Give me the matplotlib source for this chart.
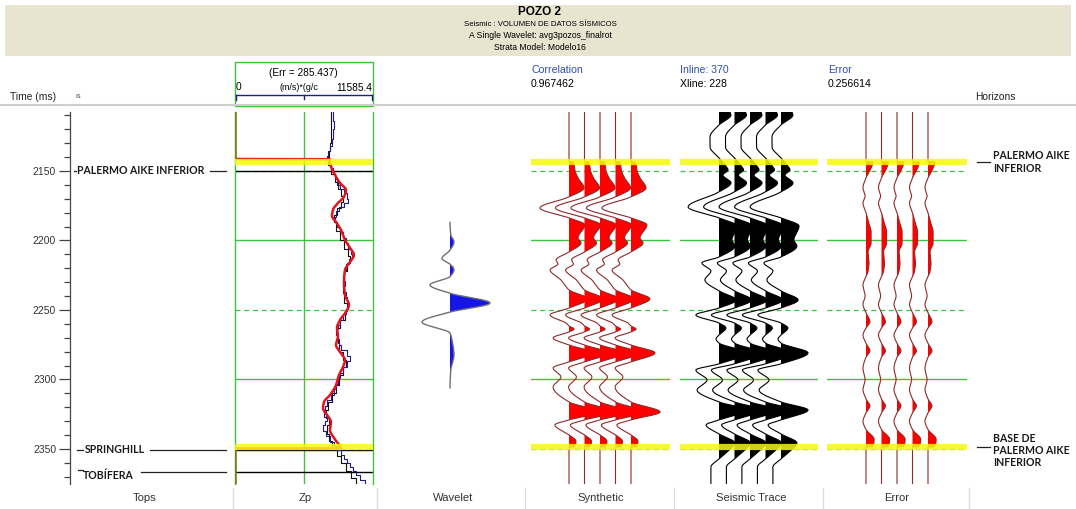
import numpy as np
import matplotlib
matplotlib.use("Agg")
import matplotlib.pyplot as plt
import matplotlib.transforms as mtransforms
from matplotlib.patches import Rectangle
from matplotlib.lines import Line2D

plt.rcParams['font.family'] = ['Liberation Sans', 'DejaVu Sans']

# ---------------- well-tie data ----------------
T_TOP, T_BOT = 2107.6, 2375.2

tops_names = ['PALERMO AIKE INFERIOR', 'SPRINGHILL', 'TOBÍFERA']
tops_times = [2150.0, 2350.5, 2366.5]

horizon_names = ['PALERMO AIKE\nINFERIOR', 'BASE DE\nPALERMO AIKE\nINFERIOR']
horizon_times = [2143.5, 2348.5]

grid_solid = [2200, 2300]
grid_dashed = [2150, 2250, 2350]

zp_max = 11585.4
zp_err = 285.437
correlation = 0.967462
inline_no, xline_no = 370, 228
error_value = 0.256614

# P-impedance model (red) and well logs
model_time = [2107.6, 2141.4, 2141.5, 2143.5, 2152.9, 2158.6, 2163.7, 2168.7, 2173.0, 2178.0,
              2182.4, 2186.7, 2192.4, 2199.6, 2205.4, 2210.4, 2215.5, 2221.2, 2229.9, 2239.2,
              2246.4, 2251.4, 2257.2, 2262.9, 2268.7, 2275.2, 2280.2, 2286.0, 2291.0, 2296.8,
              2304.0, 2311.2, 2316.2, 2320.6, 2325.5, 2330.6, 2336.3, 2342.1, 2347.9, 2349.5,
              2349.6, 2375.2]
model_zp = [0, 0, 7975, 7975, 8395, 8815, 9318, 9150, 8647, 8227,
            8143, 8479, 8899, 9234, 9654, 9990, 9654, 9234, 9150, 9234,
            9570, 9318, 8815, 8563, 8647, 8479, 8815, 9234, 9066, 8731,
            8479, 7975, 7472, 7388, 7724, 8059, 7975, 8311, 8815, 8900,
            0, 0]

log_time = [2107.6, 2114, 2120, 2127, 2132, 2136, 2139, 2142, 2145, 2148, 2152, 2156, 2160,
            2163, 2166, 2170, 2173, 2176, 2179, 2183, 2187, 2190, 2194, 2198, 2202, 2206,
            2210, 2213, 2217, 2221, 2225, 2229, 2233, 2237, 2241, 2245, 2249, 2253, 2257,
            2261, 2264, 2268, 2271, 2275, 2279, 2283, 2287, 2291, 2295, 2299, 2303, 2307,
            2311, 2315, 2319, 2323, 2327, 2330, 2333, 2337, 2341, 2345, 2348, 2351, 2354,
            2357, 2360, 2363, 2366, 2369, 2372, 2375.2]
log_zp = [8230, 8310, 8230, 8150, 7980, 7810, 7720, 7890, 8060, 8230, 8400, 8560, 8820,
          9150, 9400, 9490, 9150, 8730, 8480, 8390, 8560, 8820, 9070, 9320, 9490, 9740,
          9820, 9570, 9320, 9150, 9070, 9230, 9150, 9320, 9400, 9490, 9320, 9070, 8820,
          8650, 8480, 8560, 8730, 8900, 9400, 9650, 9400, 9070, 8820, 8650, 8480, 8310,
          8060, 7720, 7550, 7470, 7720, 7560, 7390, 7640, 7980, 8310, 8560, 8900, 9150,
          9400, 9650, 9900, 10150, 10480, 10900, 11450]

orig_time = [2107.6, 2120, 2130, 2136, 2140, 2146, 2152, 2158, 2163, 2168, 2172, 2177, 2182,
             2187, 2193, 2200, 2206, 2211, 2216, 2222, 2230, 2238, 2245, 2251, 2257, 2263,
             2268, 2274, 2280, 2286, 2291, 2297, 2304, 2310, 2316, 2322, 2328, 2333, 2339,
             2344, 2349, 2355, 2360, 2366, 2371, 2375.2]
orig_zp = [8060, 8060, 7980, 7890, 7810, 8060, 8390, 8650, 8900, 9070, 8900, 8560, 8310,
           8480, 8820, 9150, 9490, 9650, 9400, 9150, 9070, 9150, 9400, 9230, 8820, 8560,
           8650, 8730, 9070, 9320, 9070, 8730, 8480, 8140, 7800, 7640, 7890, 7720, 7890,
           8140, 8560, 8900, 9320, 9740, 10150, 10650]

# extracted wavelet (time relative to zero lag, ms)
wavelet_time = [-58, -49, -44, -38, -32, -28, -24, -19, -13, -7, 0, 6.5, 13.7, 21.6, 26.6,
                37.4, 48, 61]
wavelet_amp = [0, 0.02, 0.1, 0, -0.2, 0, 0.1, 0, -0.5, 0, 1.0, 0, -0.7, 0, 0.05, 0.1, 0.02, 0]

# synthetic trace
synth_time = [2107.6, 2143.4, 2143.5, 2150, 2155, 2162.2, 2168.7, 2176.6, 2183.8, 2188.8,
              2198.2, 2201.8, 2208.3, 2214.0, 2216.9, 2221.2, 2228.4, 2235.6, 2242.0, 2248.6,
              2253.6, 2259.4, 2261.5, 2263.7, 2265.8, 2270.1, 2275.2, 2280.9, 2287.4, 2291.7,
              2298.2, 2305.4, 2316.2, 2323.4, 2329.1, 2332.7, 2339.9, 2344.3, 2348.5, 2348.6,
              2375.2]
synth_amp = [0, 0, 0.13, 0.2, 0.3, 0.5, 0, -0.97, 0, 0.53,
             0.3, 0.4, 0, -0.43, -0.37, -0.63, -0.27, 0, 0.63, 0,
             -0.63, -0.1, 0, 0.17, 0, -0.53, 0, 0.8, 0, -0.53,
             -0.27, -0.53, 0, 0.97, 0, -0.47, 0, 0.23, 0.17, 0,
             0]

# seismic trace at the well location
seis_time = [2107.6, 2109.7, 2116.9, 2125.5, 2132.7, 2140.6, 2145.7, 2149.3, 2152.9, 2158.6,
             2165.1, 2175.9, 2183.8, 2189.6, 2199.6, 2204.0, 2211.9, 2216.2, 2222.0, 2228.4,
             2236.3, 2242.8, 2248.6, 2253.6, 2259.4, 2263.0, 2268.0, 2270.9, 2273.8, 2280.9,
             2288.8, 2293.2, 2300.4, 2307.6, 2316.2, 2322.0, 2329.1, 2332.7, 2339.2, 2345.7,
             2352.2, 2357.2, 2363.0, 2375.2]
seis_amp = [0.37, 0.4, 0, -0.3, -0.3, 0, 0.2, 0.3, 0.13, 0.4,
            0, -1.03, 0, 0.6, 0.43, 0.53, 0, -0.57, -0.27, -0.47,
            0, 0.57, 0, -0.77, 0, 0.23, 0, -0.1, 0, 0.9,
            0, -0.77, -0.4, -0.73, 0, 0.9, 0, -0.43, 0, 0.53,
            0.27, 0, -0.27, -0.27]

# error trace (seismic minus synthetic)
err_time = [2107.6, 2143.4, 2143.5, 2148, 2155, 2162, 2168, 2173, 2180, 2186, 2194, 2202,
            2208, 2216, 2222, 2226, 2232, 2240, 2246, 2252, 2258.5, 2263, 2268, 2274, 2279.5,
            2284, 2292, 2300, 2307, 2314, 2319, 2324, 2330, 2336, 2343, 2348.5, 2348.6, 2375.2]
err_amp = [0, 0, 0.23, 0.17, 0, -0.1, -0.03, -0.1, 0, 0.07, 0.17, 0.17,
           0.07, 0.1, 0.07, 0, -0.1, -0.03, -0.1, 0, 0.13, 0, -0.1, 0, 0.13,
           0, -0.1, -0.03, -0.1, 0, 0.13, 0, -0.1, 0, 0.27, 0.2, 0, 0]

track_labels = ['Tops', 'Zp', 'Wavelet', 'Synthetic', 'Seismic Trace', 'Error']

# ---------------- styling ----------------
GREEN = '#3DC43D'
YELLOW = '#F6F61A'
MAROON = '#8E2A2A'
RED_FILL = '#FF0000'
NAVY = '#1C1C8A'
BLUE_TXT = '#2F4FA8'

W, H = 1076, 509
fig = plt.figure(figsize=(W / 100, H / 100), dpi=100)
fig.patch.set_facecolor('white')


def place(x0, y0, x1, y1):
    return fig.add_axes([x0 / W, 1 - y1 / H, (x1 - x0) / W, (y1 - y0) / H])


def ftext(x, y, s, **kw):
    fig.text(x / W, 1 - y / H, s, **kw)


def fline(xs, ys, **kw):
    fig.add_artist(Line2D([x / W for x in xs], [1 - y / H for y in ys],
                          transform=fig.transFigure, **kw))


def pchip(x, y, xi):
    x = np.asarray(x, float)
    y = np.asarray(y, float)
    h = np.diff(x)
    d = np.diff(y) / h
    m = np.zeros_like(y)
    for i in range(1, len(y) - 1):
        if d[i - 1] * d[i] > 0:
            w1 = 2 * h[i] + h[i - 1]
            w2 = h[i] + 2 * h[i - 1]
            m[i] = (w1 + w2) / (w1 / d[i - 1] + w2 / d[i])
    idx = np.clip(np.searchsorted(x, xi, side='right') - 1, 0, len(h) - 1)
    s = (xi - x[idx]) / h[idx]
    h00 = 2 * s**3 - 3 * s**2 + 1
    h10 = s**3 - 2 * s**2 + s
    h01 = -2 * s**3 + 3 * s**2
    h11 = s**3 - s**2
    return h00 * y[idx] + h10 * h[idx] * m[idx] + h01 * y[idx + 1] + h11 * h[idx] * m[idx + 1]


def wiggles(ax, t, a, gain, fill, line, n=5):
    tt = np.linspace(t[0], t[-1], int((t[-1] - t[0]) / 0.1) + 1)
    aa = pchip(t, a, tt) * gain
    for k in range(n):
        ax.fill_betweenx(tt, k, k + aa, where=aa > 0, interpolate=True,
                         facecolor=fill, linewidth=0, zorder=3)
        ax.plot(k + aa, tt, color=line, lw=0.8, zorder=3)


def time_grid(ax, tops=False):
    for t in grid_solid:
        ax.axhline(t, color=GREEN, lw=1.0, zorder=1)
    for t in grid_dashed:
        ax.axhline(t, color=GREEN, lw=0.9, ls=(0, (4, 3)), zorder=1)
    if tops:
        for t in tops_times:
            ax.axhline(t, color='black', lw=1.0, zorder=2)
    for t in horizon_times:
        ax.axhline(t, color=YELLOW, lw=4.5, alpha=0.85, zorder=5)


# ---------------- header ----------------
fig.add_artist(Rectangle((5 / W, 1 - 56 / H), 1066 / W, 51 / H, transform=fig.transFigure,
                         facecolor='#E7E4CF', edgecolor='none'))
ftext(540, 12, 'POZO 2', ha='center', va='center', fontsize=8.5, fontweight='bold')
ftext(540, 24, 'Seismic : VOLUMEN DE DATOS SÍSMICOS', ha='center', va='center', fontsize=5.6)
ftext(540, 36, 'A Single Wavelet: avg3pozos_finalrot', ha='center', va='center', fontsize=6.2)
ftext(540, 48, 'Strata Model: Modelo16', ha='center', va='center', fontsize=6.2)

ftext(10, 97, 'Time (ms)', ha='left', va='center', fontsize=7.4, color='#222')
ftext(75, 96, 'ıs', ha='left', va='center', fontsize=5, color='#444')

# Zp header box
fig.add_artist(Rectangle((235 / W, 1 - 106 / H), 138 / W, 44 / H, transform=fig.transFigure,
                         facecolor='none', edgecolor=GREEN, lw=1.0))
ftext(303, 73, '(Err = %.3f)' % zp_err, ha='center', va='center', fontsize=7.3)
ftext(236, 87, '0', ha='left', va='center', fontsize=7.3)
ftext(280, 88, '(m/s)*(g/c', ha='left', va='center', fontsize=6.4)
ftext(372, 88, '%.1f' % zp_max, ha='right', va='center', fontsize=7.3)
fline([236, 372], [94.5, 94.5], color=NAVY, lw=1.0)
fline([236, 236], [94.5, 100], color=NAVY, lw=1.0)
fline([372, 372], [94.5, 100], color=NAVY, lw=1.0)
fline([304, 304], [94.5, 98.5], color=NAVY, lw=1.0)

ftext(531, 70, 'Correlation', ha='left', va='center', fontsize=7.6, color=BLUE_TXT)
ftext(531, 84, '%.6f' % correlation, ha='left', va='center', fontsize=7.6)
ftext(680, 70, 'Inline: %d' % inline_no, ha='left', va='center', fontsize=7.6, color=BLUE_TXT)
ftext(680, 84, 'Xline: %d' % xline_no, ha='left', va='center', fontsize=7.6)
ftext(828, 70, 'Error', ha='left', va='center', fontsize=7.6, color=BLUE_TXT)
ftext(828, 84, '%.6f' % error_value, ha='left', va='center', fontsize=7.6)
ftext(975, 97, 'Horizons', ha='left', va='center', fontsize=7.4, color='#222')

fline([0, 1076], [105, 105], color='#CFCFCF', lw=1.5)

# bottom labels
for x, lab in zip([145, 305, 453, 601, 751, 897], track_labels):
    ftext(x, 498, lab, ha='center', va='center', fontsize=8.1, color='#333')
for x in [233, 377, 525, 674, 823, 969]:
    fline([x, x], [488, 509], color='#DEDEDE', lw=1.0)

# ---------------- tracks ----------------
# Tops / time axis
ax_t = place(70, 112, 233, 484)
ax_t.set_ylim(T_BOT, T_TOP)
ax_t.set_xlim(0, 1)
for s in ['top', 'right', 'bottom']:
    ax_t.spines[s].set_visible(False)
ax_t.spines['left'].set_color('#444')
ax_t.spines['left'].set_linewidth(0.9)
ax_t.set_xticks([])
ax_t.set_yticks([2150, 2200, 2250, 2300, 2350])
ax_t.set_yticks(np.arange(2110, 2375, 10), minor=True)
ax_t.tick_params(axis='y', which='major', length=8, width=0.9, color='#444',
                 labelsize=7.5, labelcolor='#333', pad=2)
ax_t.tick_params(axis='y', which='minor', length=4, width=0.9, color='#444')
ax_t.patch.set_alpha(0)
trans_t = mtransforms.blended_transform_factory(ax_t.transAxes, ax_t.transData)
fx = lambda px: (px - 70) / 163.0
top_layout = [  # (dash start, dash end, text x, line start, line end, text dy)
    (74, 76, 77, 210, 226, 0.0),
    (77, 83, 85, 150, 226, 0.0),
    (78, 83, 83, 141, 226, 2.5),
]
for name, t, (d0, d1, tx, l0, l1, dy) in zip(tops_names, tops_times, top_layout):
    ax_t.plot([fx(d0), fx(d1)], [t - (1.5 if dy else 0), t - (1.5 if dy else 0)],
              color='#222', lw=0.9, transform=trans_t, clip_on=False)
    ax_t.text(fx(tx), t + dy, name, transform=trans_t, ha='left', va='center',
              fontsize=7.6, fontweight='bold', family='Lato', color='#1a1a1a')
    ax_t.plot([fx(l0), fx(l1)], [t, t], color='#222', lw=0.9, transform=trans_t,
              clip_on=False)

# Zp track
ax_z = place(235, 112, 373, 484)
ax_z.set_ylim(T_BOT, T_TOP)
ax_z.set_xlim(0, zp_max)
ax_z.set_xticks([])
ax_z.set_yticks([])
for s in ['top', 'bottom']:
    ax_z.spines[s].set_visible(False)
for s in ['left', 'right']:
    ax_z.spines[s].set_color(GREEN)
    ax_z.spines[s].set_linewidth(1.0)
ax_z.axvline(zp_max / 2, color=GREEN, lw=1.0, zorder=1)
time_grid(ax_z, tops=True)


def blocky(t, v):
    t = np.asarray(t, float)
    v = np.asarray(v, float)
    return np.repeat(v, 2)[:-1], np.repeat(t, 2)[1:]


bx, by = blocky(orig_time, orig_zp)
ax_z.plot(bx, by, color='#111111', lw=0.8, zorder=3)
bx, by = blocky(log_time, log_zp)
ax_z.plot(bx, by, color=NAVY, lw=0.8, zorder=3)
mt = np.linspace(model_time[0], model_time[-1], 6000)
mz = pchip(model_time, model_zp, mt)
ax_z.plot(mz, mt, color='#E3141B', lw=1.8, zorder=4)
zero = np.where(mz <= 1, 0.0, np.nan)
ax_z.plot(zero + 0.004 * zp_max, mt, color='#7A7A10', lw=1.6, zorder=4)

# Wavelet track
ax_w = place(380, 112, 525, 484)
ax_w.set_axis_off()
ax_w.set_ylim((484 - 303) / 1.39, (112 - 303) / 1.39)
ax_w.set_xlim(-70 / 40, 75 / 40)
wt = np.linspace(wavelet_time[0], wavelet_time[-1], 2000)
wa = pchip(wavelet_time, wavelet_amp, wt)
ax_w.fill_betweenx(wt, 0, wa, where=wa > 0, interpolate=True, facecolor='#1515E6', lw=0)
ax_w.plot(wa, wt, color='#707070', lw=1.0)

# Synthetic, seismic and error tracks
GAIN = 30 / 15.5
for (x0, x1, base), t, a, fill, line in [
        ((531, 670, 569), synth_time, synth_amp, RED_FILL, MAROON),
        ((680, 818, 719), seis_time, seis_amp, 'black', 'black'),
        ((827, 967, 866), err_time, err_amp, RED_FILL, MAROON)]:
    ax = place(x0, 112, x1, 484)
    ax.set_axis_off()
    ax.set_ylim(T_BOT, T_TOP)
    ax.set_xlim((x0 - base) / 15.5, (x1 - base) / 15.5)
    time_grid(ax)
    wiggles(ax, t, a, GAIN, fill, line)

# Horizons track
ax_h = place(970, 112, 1076, 484)
ax_h.set_axis_off()
ax_h.set_ylim(T_BOT, T_TOP)
ax_h.set_xlim(0, 1)
hx = lambda px: (px - 970) / 106.0
for name, t, dy in zip(horizon_names, horizon_times, [0.0, 2.5]):
    ax_h.plot([hx(977), hx(990)], [t, t], color='#222', lw=0.9)
    ax_h.text(hx(993), t + dy, name, ha='left', va='center', fontsize=7.6,
              fontweight='bold', family='Lato', color='#1a1a1a', linespacing=1.15)

fig.savefig('out.png', dpi=100, facecolor='white')
